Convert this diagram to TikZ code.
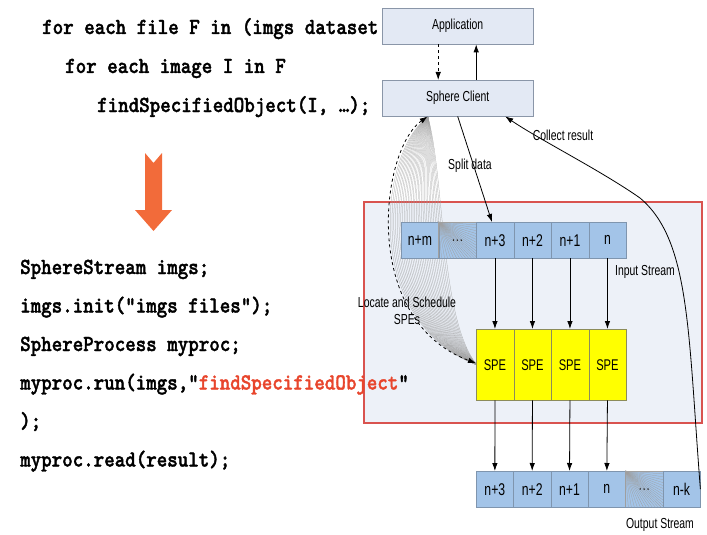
\documentclass[tikz,border=0pt]{standalone}
\usepackage{fontspec}
\newfontfamily\codeface{lmmonolt10-bold.otf}[FakeStretch=0.87, FakeBold=1.6]
\newfontfamily\labelfont{Liberation Sans}[FakeStretch=0.72]
\usetikzlibrary{calc,arrows.meta}
\definecolor{boxfill}{HTML}{E3E9F4}
\definecolor{boxline}{HTML}{8A96A8}
\definecolor{cellblue}{HTML}{A3C4E8}
\definecolor{cellline}{HTML}{7F95AE}
\definecolor{speyellow}{HTML}{FFFF00}
\definecolor{speline}{HTML}{8C8C5A}
\definecolor{framered}{HTML}{D9534F}
\definecolor{framefill}{HTML}{EDF1F8}
\definecolor{objred}{HTML}{E8452C}
\definecolor{bigarrow}{HTML}{F26B3A}
\newcommand\codefont{\codeface\fontsize{23}{23}\selectfont}
\newcommand\tagfont{\labelfont\fontsize{14.5}{17}\selectfont}
\tikzset{
  code/.style={anchor=base west, inner sep=0, font=\codefont},
  tag/.style={inner sep=0, font=\tagfont},
  bigbox/.style={draw=boxline, fill=boxfill, minimum width=151, minimum height=36, inner sep=0, anchor=north west, font=\tagfont},
  cell/.style={draw=cellline, fill=cellblue, minimum width=37.5, minimum height=36, inner sep=0, anchor=north west, font=\labelfont\fontsize{17}{17}\selectfont},
  spebox/.style={cell, fill=speyellow, draw=speline, minimum height=71, font=\labelfont\fontsize{15.5}{16}\selectfont},
  hatch/.style={gray!75, line width=0.25pt},
  link/.style={-{Latex[length=8pt,width=5.5pt]}, line width=0.8pt}
}
\begin{document}
\begin{tikzpicture}[x=1pt, y=-1pt]
\useasboundingbox (0,0) rectangle (707,535);

% frame of the SPEs
\node[draw=framered, fill=framefill, line width=1.5pt, minimum width=338, minimum height=221, inner sep=0, anchor=north west] (frame) at (363,201) {};

% shaded band of locate and schedule
\foreach \k in {0,...,30}
{
    \draw[hatch] (428,117) .. controls ({380+65*\k/30},{150+30*\k/30}) and ({360+80*\k/30},320) .. (477,365);
}

\node[bigbox] (app) at (382,8) {Application};
\node[bigbox] (client) at (382,80) {Sphere Client};

\foreach \lbl [count=\i] in {n+m,…,n+3,n+2,n+1,n}
{
    \node[cell] (in\i) at ({401+37.5*(\i-1)},222) {\lbl};
}
\foreach \i in {1,...,4}
{
    \node[spebox] (spe\i) at ({476+37.5*(\i-1)},329) {SPE};
}
\foreach \lbl [count=\i] in {n+3,n+2,n+1,n,…,n-k}
{
    \node[cell, minimum width=37.33] (out\i) at ({476+37.33*(\i-1)},471) {\lbl};
}

% hatching of the gaps
\foreach \f in {0,0.08,...,1}
{
    \draw[hatch] (in2.north west) -- ($(in2.south west)!\f!(in2.south east)$);
    \draw[hatch] (in2.north west) -- ($(in2.north east)!\f!(in2.south east)$);
    \draw[hatch] (out5.north west) -- ($(out5.south west)!\f!(out5.south east)$);
    \draw[hatch] (out5.north west) -- ($(out5.north east)!\f!(out5.south east)$);
}

% connectors
\draw[link, dashed] ([xshift=-19.5]app.south) -- ([xshift=-19.5]client.north);
\draw[link] ([xshift=18.5]client.north) -- ([xshift=18.5]app.south);
\draw[link] (client.south) -- ([xshift=-3]in3.north);
\foreach \i [evaluate=\i as \j using int(\i+2)] in {1,...,4}
{
    \draw[link] (in\j.south) -- (spe\i.north);
    \draw[link] (spe\i.south) -- (out\i.north);
}
\draw[link, {Latex[length=8pt,width=5.5pt]}-{Latex[length=8pt,width=5.5pt]}, dashed] ([xshift=-30]client.south) .. controls (380,150) and (360,320) .. ([yshift=1.5]spe1.west);
\draw[link] (out6.east) .. controls (688,330) and (690,240) .. (640,198) .. controls (600,170) and (540,140) .. ([xshift=47.5]client.south);

% labels
\node[tag] (split) at (470,166) {Split data};
\node[tag] (collect) at (563,135) {Collect result};
\node[tag] (instream) at (645,272) {Input Stream};
\node[tag] (outstream) at (660,525) {Output Stream};
\node[tag, align=center] (locate) at (407,311) {Locate and Schedule\\SPEs};

% sequential version
\node[code] (loopa) at (42,34) {for each file F in (imgs dataset};
\node[code] (loopb) at (65,73) {for each image I in F};
\node[code] (loopc) at (97,112) {findSpecifiedObject(I, …);};

\fill[bigarrow] (145,153)--(153.5,163)--(162,153)--(162,210)--(172,210)--(153.5,231)--(135,210)--(145,210)--cycle;

% sphere version
\node[code] (codea) at (20,274) {SphereStream imgs;};
\node[code] (codeb) at (20,312.5) {imgs.init("imgs files");};
\node[code] (codec) at (20,351) {SphereProcess myproc;};
\node[code] (coded) at (20,389.5) {myproc.run(imgs,"\textcolor{objred}{findSpecifiedObject}"};
\node[code] (codee) at (20,428) {);};
\node[code] (codef) at (20,466.5) {myproc.read(result);};

\end{tikzpicture}
\end{document}
